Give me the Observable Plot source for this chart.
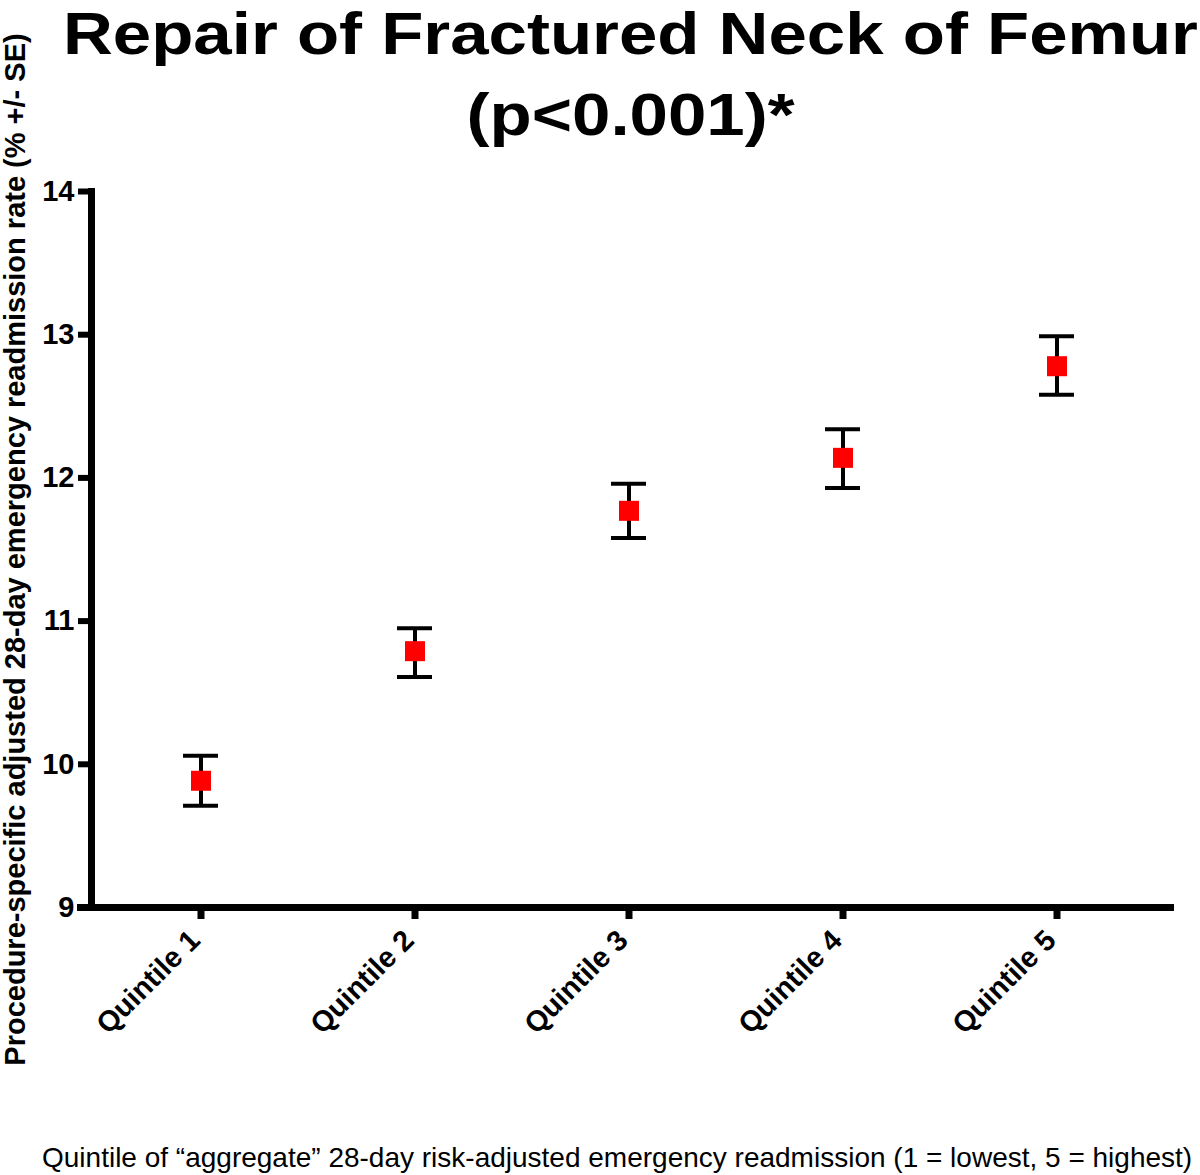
<!DOCTYPE html>
<html>
<head>
<meta charset="utf-8">
<script src="https://cdn.jsdelivr.net/npm/d3@7"></script>
<script src="https://cdn.jsdelivr.net/npm/@observablehq/plot@0.6"></script>
<style>
  body { margin: 0; background: #fff; font-family: "Liberation Sans", Arial, sans-serif; color: #000; }
  #wrap { width: 1200px; height: 1175px; overflow: hidden; position: relative; }
  #title { position: absolute; z-index: 2; top: 0; left: 91px; width: 1079px; text-align: center;
           font-weight: bold; font-size: 60px; }
  #title .row1 { height: 67px; line-height: 67px; }
  #title .row2 { height: 96px; line-height: 96px; }
  #title span { display: inline-block; transform: scaleX(1.15); }
  #caption { padding: 18px 0 0 42px; font-size: 28px; line-height: 40px; white-space: nowrap; }
</style>
</head>
<body>
<div id="wrap">
  <div id="chart"></div>
  <div id="caption">Quintile of “aggregate” 28-day risk-adjusted emergency readmission (1 = lowest, 5 = highest)</div>
  <div id="title"><div class="row1"><span>Repair of Fractured Neck of Femur</span></div><div class="row2"><span>(p&lt;0.001)*</span></div></div>
</div>
<script>
const quintiles = ["Quintile 1", "Quintile 2", "Quintile 3", "Quintile 4", "Quintile 5"];
const rate  = [9.885, 10.79, 11.77, 12.14, 12.78];
const upper = [10.06, 10.95, 11.96, 12.34, 12.99];
const lower = [9.71, 10.61, 11.58, 11.93, 12.58];
const yTicks = [9, 10, 11, 12, 13, 14];
const yLabel = "Procedure-specific adjusted 28-day emergency readmission rate (% +/- SE)";

const data = quintiles.map((q, i) => ({q, rate: rate[i], hi: upper[i], lo: lower[i]}));

const chart = Plot.plot({
  width: 1200,
  height: 1120,
  marginTop: 191,
  marginLeft: 91,
  marginRight: 30,
  marginBottom: 213,
  style: {fontFamily: "'Liberation Sans', Arial, sans-serif", fontSize: "29px", fontWeight: "bold", color: "#000"},
  x: {type: "band", domain: quintiles, paddingInner: 0.837, paddingOuter: 0.4307, align: 0.49},
  y: {domain: [9, 14]},
  marks: [
    Plot.axisY({ticks: yTicks, tickFormat: "d", tickSize: 13, tickPadding: 4, strokeWidth: 6, label: yLabel,
                labelAnchor: "center", labelArrow: "none", labelOffset: 87, fontSize: 29}),
    Plot.axisX({tickSize: 12, strokeWidth: 7, tickFormat: () => "", label: null}),
    Plot.axisX({tickSize: 0, tickPadding: 28, dx: -6, tickRotate: -45, label: null, fontSize: 29}),
    Plot.frame({anchor: "left", strokeWidth: 7, stroke: "#000"}),
    Plot.frame({anchor: "bottom", strokeWidth: 7, stroke: "#000", insetLeft: -11}),
    Plot.ruleX(data, {x: "q", y1: "lo", y2: "hi", stroke: "#000", strokeWidth: 4}),
    Plot.tickY(data, {x: "q", y: "hi", stroke: "#000", strokeWidth: 4}),
    Plot.tickY(data, {x: "q", y: "lo", stroke: "#000", strokeWidth: 4}),
    Plot.dot(data, {x: "q", y: "rate", symbol: "square", r: 11.3, fill: "#ff0000", stroke: "none"})
  ]
});
document.getElementById("chart").appendChild(chart);
</script>
</body>
</html>
